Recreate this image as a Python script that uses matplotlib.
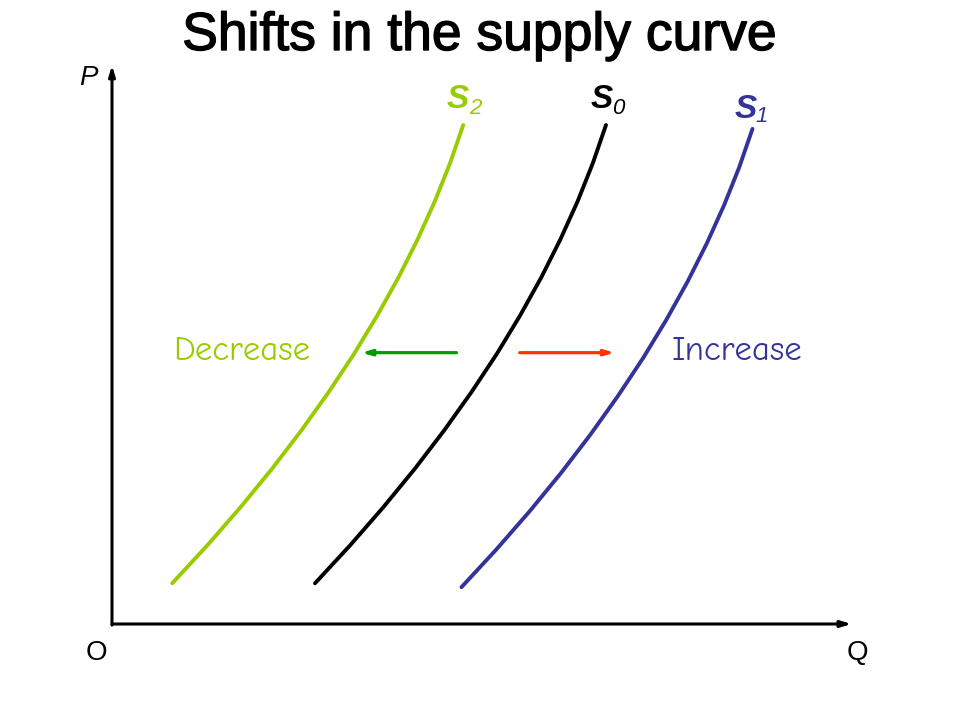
import matplotlib
matplotlib.use("Agg")
import matplotlib.pyplot as plt
import matplotlib.patheffects as pe

# ---- data (quantity Q, price P in axis units 0..100) ----
s0_q = [27.58, 32.38, 36.90, 41.15, 45.12, 48.82, 52.26, 55.41, 58.30, 60.91, 63.26, 65.33, 67.12]
s0_p = [7.32, 14.19, 21.06, 27.93, 34.80, 41.67, 48.53, 55.40, 62.27, 69.14, 76.01, 82.88, 89.75]
s2_q = [8.18, 12.98, 17.50, 21.75, 25.72, 29.42, 32.86, 36.01, 38.90, 41.51, 43.86, 45.93, 47.72]
s2_p = [7.32, 14.19, 21.06, 27.93, 34.80, 41.67, 48.53, 55.40, 62.27, 69.14, 76.01, 82.88, 89.75]
s1_q = [47.48, 52.28, 56.80, 61.05, 65.02, 68.72, 72.16, 75.31, 78.20, 80.81, 83.16, 85.23, 87.02]
s1_p = [6.62, 13.49, 20.36, 27.23, 34.10, 40.97, 47.83, 54.70, 61.57, 68.44, 75.31, 82.18, 89.05]

curve_subscripts = {"S2": "2", "S0": "0", "S1": "1"}
title = "Shifts in the supply curve"

GREEN = "#99CC00"
BLUE = "#333399"
BLACK = "#000000"

fig = plt.figure(figsize=(9.6, 7.2), dpi=100)
ax = fig.add_axes([112/960, 96/720, 736/960, 556/720])
ax.set_xlim(0, 100)
ax.set_ylim(0, 100)
ax.axis("off")

lw = 2.8
for q, p, c in [(s2_q, s2_p, GREEN), (s0_q, s0_p, BLACK), (s1_q, s1_p, BLUE)]:
    ax.plot(q, p, color=c, lw=lw, solid_capstyle="round",
            solid_joinstyle="round", clip_on=False)

# axes arrows
ax.annotate("", xy=(100.5, 0), xytext=(0, 0),
            arrowprops=dict(arrowstyle="-|>,head_length=0.6,head_width=0.18",
                            color="black", lw=2.2, shrinkA=0, shrinkB=0),
            annotation_clip=False)
ax.annotate("", xy=(0, 100.5), xytext=(0, -0.2),
            arrowprops=dict(arrowstyle="-|>,head_length=0.6,head_width=0.18",
                            color="black", lw=2.2, shrinkA=0, shrinkB=0),
            annotation_clip=False)

# shift arrows
ax.annotate("", xy=(33.9, 48.8), xytext=(46.8, 48.8),
            arrowprops=dict(arrowstyle="-|>,head_length=0.55,head_width=0.16",
                            color="#009900", lw=2.3, shrinkA=0, shrinkB=0))
ax.annotate("", xy=(68.3, 48.8), xytext=(55.4, 48.8),
            arrowprops=dict(arrowstyle="-|>,head_length=0.55,head_width=0.16",
                            color="#FF3300", lw=2.3, shrinkA=0, shrinkB=0))

# text
fam = "Liberation Sans"
fig.text(0.5, 1 - 50/720, title, ha="center", va="baseline",
         fontsize=38.5, family=fam,
         path_effects=[pe.withStroke(linewidth=1.0, foreground="black")])
fig.text(88/960, 1 - 78/720, "P", ha="center", va="center", fontsize=20,
         family=fam, style="italic")
fig.text(96/960, 1 - 653/720, "O", ha="center", va="center", fontsize=20, family=fam)
fig.text(857/960, 1 - 653/720, "Q", ha="center", va="center", fontsize=20, family=fam)

def sub_label(x, y, sub, color, sx, sy):
    fig.text(x/960, 1 - y/720, "S", ha="center", va="center", fontsize=24,
             family=fam, weight="bold", style="italic", color=color)
    fig.text(sx/960, 1 - sy/720, sub, ha="center", va="center",
             fontsize=16, family=fam, style="italic", color=color)

sub_label(458, 100, curve_subscripts["S2"], GREEN, 475, 108)
sub_label(602, 100, curve_subscripts["S0"], BLACK, 618, 109)
sub_label(746, 109, curve_subscripts["S1"], BLUE, 762, 116)

hand = ["Comic Neue", "Lato", "DejaVu Sans"]
fig.text(173/960, 1 - 352/720, "Decrease", ha="left", va="center",
         fontsize=25, family=hand, color=GREEN)
fig.text(672/960, 1 - 352/720, "Increase", ha="left", va="center",
         fontsize=25, family=hand, color=BLUE)

fig.savefig("out.png", dpi=100)
